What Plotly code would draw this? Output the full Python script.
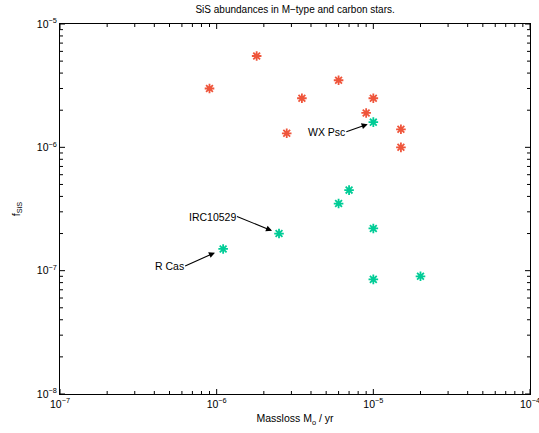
import math
import plotly.graph_objects as go

# SiS abundance vs. mass-loss rate
mtype_massloss = [9e-7, 1.8e-6, 3.5e-6, 2.8e-6, 6e-6, 1e-5, 9e-6, 1.5e-5, 1.5e-5]
mtype_fsis = [3.0e-6, 5.5e-6, 2.5e-6, 1.3e-6, 3.5e-6, 2.5e-6, 1.9e-6, 1.4e-6, 1.0e-6]

carbon_massloss = [1e-5, 7e-6, 6e-6, 1e-5, 2.5e-6, 1.1e-6, 1e-5, 2e-5]
carbon_fsis = [1.6e-6, 4.5e-7, 3.5e-7, 2.2e-7, 2.0e-7, 1.5e-7, 8.5e-8, 9e-8]

# labelled stars: (name, massloss, fsis, tail dx, tail dy, standoff)
labels = [
    ("WX Psc", 1e-5, 1.6e-6, -27, 9.5, 6),
    ("IRC10529", 2.5e-6, 2.0e-7, -42, -17, 7.5),
    ("R Cas", 1.1e-6, 1.5e-7, -38, 17, 9),
]

X_DECADES = (-7, -4)
Y_DECADES = (-8, -5)
x_tickvals = [1e-7, 1e-6, 1e-5, 1e-4]
x_ticktext = ["10<sup>−7</sup>", "10<sup>−6</sup>", "10<sup>−5</sup>", "10<sup>−4</sup>"]
y_tickvals = [1e-8, 1e-7, 1e-6, 1e-5]
y_ticktext = ["10<sup>−8</sup>", "10<sup>−7</sup>", "10<sup>−6</sup>", "10<sup>−5</sup>"]

FONT = "Liberation Sans, Arial, Helvetica, sans-serif"

W, H = 539, 433
M_L, M_R, M_T, M_B = 60, 9, 24, 39
PLOT_W = W - M_L - M_R
PLOT_H = H - M_T - M_B


def minor_ticks(lo, hi):
    # 2..9 x 10^e for each decade between lo and hi
    return [k * 10.0 ** e for e in range(lo, hi) for k in range(2, 10)]


fig = go.Figure()

# inward tick marks on all four sides, drawn as line segments in data space
x_per_px = (X_DECADES[1] - X_DECADES[0]) / PLOT_W   # decades per pixel
y_per_px = (Y_DECADES[1] - Y_DECADES[0]) / PLOT_H
tx, ty = [], []
for vals, length in ((x_tickvals, 5), (minor_ticks(*X_DECADES), 3)):
    for v in vals:
        dy = length * y_per_px
        tx += [v, v, None, v, v, None]
        ty += [10 ** Y_DECADES[0], 10 ** (Y_DECADES[0] + dy), None,
               10 ** Y_DECADES[1], 10 ** (Y_DECADES[1] - dy), None]
for vals, length in ((y_tickvals, 5), (minor_ticks(*Y_DECADES), 3)):
    for v in vals:
        dx = length * x_per_px
        ty += [v, v, None, v, v, None]
        tx += [10 ** X_DECADES[0], 10 ** (X_DECADES[0] + dx), None,
               10 ** X_DECADES[1], 10 ** (X_DECADES[1] - dx), None]
fig.add_trace(go.Scatter(
    x=tx, y=ty, mode="lines", line=dict(color="black", width=1),
    showlegend=False, hoverinfo="skip", cliponaxis=False,
))

fig.add_trace(go.Scatter(
    x=mtype_massloss, y=mtype_fsis, mode="markers",
    marker=dict(symbol="asterisk-open", size=8, line=dict(color="#0000ff", width=1.8)),
    showlegend=False,
))
fig.add_trace(go.Scatter(
    x=carbon_massloss, y=carbon_fsis, mode="markers",
    marker=dict(symbol="asterisk-open", size=8, line=dict(color="#ff0000", width=1.8)),
    showlegend=False,
))

# annotations on log axes take log10 positions
for name, mx, my, dx, dy, so in labels:
    fig.add_annotation(
        x=math.log10(mx), y=math.log10(my), xref="x", yref="y", text=name,
        showarrow=True, ax=dx, ay=dy,
        xanchor="right", yanchor="middle",
        arrowhead=2, arrowsize=1.1, arrowwidth=1.1, arrowcolor="black",
        standoff=so, borderpad=0,
        font=dict(family=FONT, size=10.5, color="black"),
    )

axis_common = dict(
    type="log",
    showgrid=False, zeroline=False,
    showline=True, linecolor="black", linewidth=1,
    mirror=True,
    ticks="", ticklabeloverflow="allow",
    tickfont=dict(family=FONT, size=10.5, color="black"),
)

fig.update_xaxes(
    **axis_common,
    range=list(X_DECADES), tickmode="array", tickvals=x_tickvals, ticktext=x_ticktext,
    title=dict(text="Massloss M<sub>o</sub> / yr", font=dict(family=FONT, size=10.5, color="black"), standoff=6),
)
fig.update_yaxes(
    **axis_common,
    range=list(Y_DECADES), tickmode="array", tickvals=y_tickvals, ticktext=y_ticktext,
    title=dict(text="f<sub>SiS</sub>", font=dict(family=FONT, size=10.5, color="black"), standoff=14),
)

fig.update_layout(
    width=W, height=H,
    margin=dict(l=M_L, r=M_R, t=M_T, b=M_B, autoexpand=False),
    paper_bgcolor="white", plot_bgcolor="white",
    title=dict(text="SiS abundances in M−type and carbon stars.", x=0.5475, xanchor="center",
               y=0.977, yanchor="middle", font=dict(family=FONT, size=10, color="black")),
)

fig.write_html("out.html")
